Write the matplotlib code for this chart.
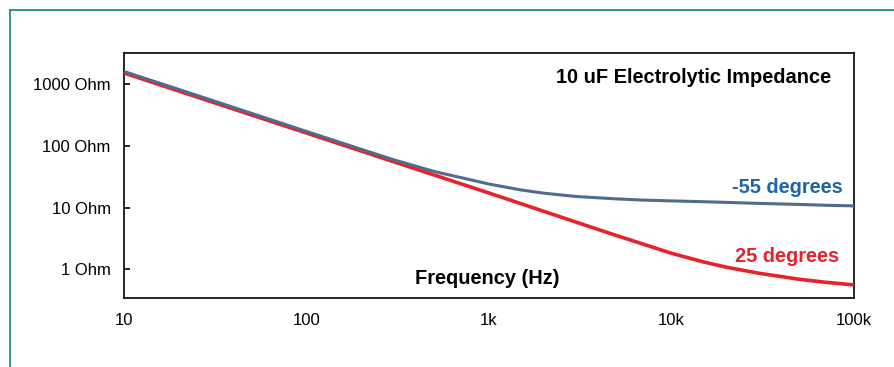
import matplotlib
matplotlib.use("Agg")
import matplotlib.pyplot as plt
from matplotlib.lines import Line2D

plt.rcParams['font.family'] = ['Liberation Sans', 'DejaVu Sans']

# Data
freq_hz = [10, 20, 50, 100, 200, 300, 500, 1000, 1500, 2000, 3000, 5000, 7000,
           10000, 15000, 20000, 30000, 50000, 70000, 100000]
z_25c = [1538, 782, 320, 163, 83, 55.8, 34, 17.3, 11.6, 8.71, 5.83, 3.53, 2.56,
         1.82, 1.315, 1.08, 0.865, 0.69, 0.615, 0.558]
z_m55c = [1625, 830, 340, 173, 88.5, 60, 38.8, 24.2, 19.4, 17.2, 15.2, 13.9, 13.3,
          12.9, 12.5, 12.2, 11.75, 11.3, 10.95, 10.7]

y_ticks = [1, 10, 100, 1000]
y_tick_labels = ["1 Ohm", "10 Ohm", "100 Ohm", "1000 Ohm"]
x_ticks = [10, 100, 1000, 10000, 100000]
x_tick_labels = ["10", "100", "1k", "10k", "100k"]

title_text = "10 uF Electrolytic Impedance"
xlabel_text = "Frequency (Hz)"
label_25 = "25 degrees"
label_m55 = "-55 degrees"

RED = "#e8212b"
BLUE_LINE = "#516b8d"
BLUE_TEXT = "#1c64a6"
GREEN = "#23956a"

fig = plt.figure(figsize=(8.94, 3.67), dpi=100)
ax = fig.add_axes([124/894, 1-298/367, (854-124)/894, (298-53)/367])

ax.plot(freq_hz, z_25c, color=RED, lw=2.6, solid_capstyle='butt',
        solid_joinstyle='round', zorder=3)
ax.plot(freq_hz, z_m55c, color=BLUE_LINE, lw=2.2, solid_capstyle='butt',
        solid_joinstyle='round', zorder=4)

ax.set_xscale('log')
ax.set_yscale('log')
ax.set_xlim(10, 100000)
ax.set_ylim(0.342, 3246)

ax.set_xticks(x_ticks)
ax.set_xticklabels(x_tick_labels)
ax.set_yticks(y_ticks)
ax.set_yticklabels(y_tick_labels)
ax.minorticks_off()
ax.tick_params(axis='x', length=0, pad=11, labelsize=12, colors='black')
ax.tick_params(axis='y', direction='in', length=4.5, width=1.2, pad=9.5,
               labelsize=12, colors='black')
for s in ax.spines.values():
    s.set_linewidth(1.2)
    s.set_color('black')

ax.text(0.969, 0.9, title_text, transform=ax.transAxes, ha='right', va='center',
        fontsize=14.4, fontweight='bold', color='black')
ax.text(0.498, 0.08, xlabel_text, transform=ax.transAxes, ha='center', va='center',
        fontsize=14.4, fontweight='bold', color='black')
ax.text(0.985, 0.452, label_m55, transform=ax.transAxes, ha='right', va='center',
        fontsize=14.4, fontweight='bold', color=BLUE_TEXT)
ax.text(0.98, 0.17, label_25, transform=ax.transAxes, ha='right', va='center',
        fontsize=14.4, fontweight='bold', color=RED)

# green frame (left and top edges)
fig.add_artist(Line2D([9.5/894, 9.5/894], [0, 1-9.5/367], color=GREEN, lw=1.3))
fig.add_artist(Line2D([9.5/894, 1], [1-9.5/367, 1-9.5/367], color=GREEN, lw=1.3))

fig.savefig("out.png", dpi=100)
